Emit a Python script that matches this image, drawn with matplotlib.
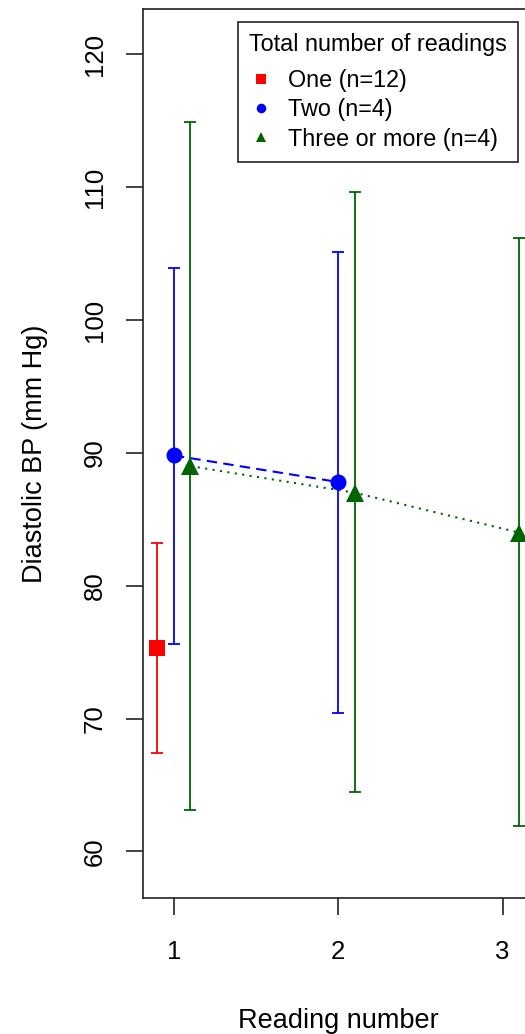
"""Diastolic BP by reading number, grouped by total number of readings."""
import matplotlib
matplotlib.use("Agg")
import matplotlib.pyplot as plt

plt.rcParams["font.family"] = ["Liberation Sans", "DejaVu Sans"]

# data
reading_one = [1]
bp_one = [75.3]
lo_one = [67.4]
hi_one = [83.2]

reading_two = [1, 2]
bp_two = [89.8, 87.8]
lo_two = [75.6, 70.4]
hi_two = [103.9, 105.1]

reading_three = [1, 2, 3]
bp_three = [89.0, 87.0, 84.0]
lo_three = [63.1, 64.5, 61.9]
hi_three = [114.9, 109.6, 106.2]

labels = ["One (n=12)", "Two (n=4)", "Three or more (n=4)"]

groups = [
    # (x, mean, low, high, colour, marker, size, offset, linestyle)
    (reading_one, bp_one, lo_one, hi_one, "#ff0000", "s", 11, -0.1, None),
    (reading_two, bp_two, lo_two, hi_two, "#0000ff", "o", 11.5, 0.0, (0, (5, 3))),
    (reading_three, bp_three, lo_three, hi_three, "#006400", "^", 13, 0.1, (0, (1, 2.6))),
]

W, H = 525, 1034
fig = plt.figure(figsize=(W / 100, H / 100), dpi=100)
left, right, top, bottom = 143, 533.5, 9, 898
ax = fig.add_axes([left / W, 1 - bottom / H, (right - left) / W, (bottom - top) / H])

handles = []
for (xs, m, lo, hi, col, mk, ms, off, ls), lab in zip(groups, labels):
    xx = [x + off for x in xs]
    yerr = [[a - b for a, b in zip(m, lo)], [b - a for a, b in zip(m, hi)]]
    ax.errorbar(xx, m, yerr=yerr, fmt="none", ecolor=col, elinewidth=1.3,
                capsize=4.2, capthick=1.3, zorder=2)
    if ls is not None:
        ax.plot(xx, m, color=col, lw=1.5, linestyle=ls, zorder=3)
    h, = ax.plot(xx, m, linestyle="none", marker=mk, color=col, markersize=ms,
                 markeredgewidth=0, zorder=4, label=lab)
    handles.append(h)

ax.set_xlim(0.812, 3.188)
ax.set_ylim(56.5, 123.4)
ax.set_xticks([1, 2, 3])
ax.set_yticks([60, 70, 80, 90, 100, 110, 120])
ax.tick_params(axis="both", length=12, width=1.2, color="#222222", labelsize=18.5)
ax.tick_params(axis="x", pad=18)
ax.tick_params(axis="y", pad=14)
for t in ax.get_yticklabels():
    t.set_rotation(90)
    t.set_va("center")
for s in ax.spines.values():
    s.set_linewidth(1.2)
    s.set_color("#222222")

ax.set_xlabel("Reading number", fontsize=19.5, labelpad=32)
ax.set_ylabel("Diastolic BP (mm Hg)", fontsize=19.5, labelpad=25)

leg = ax.legend(handles=handles, title="Total number of readings",
                loc="upper left", bbox_to_anchor=(238 / W, 1 - 22 / H),
                bbox_transform=fig.transFigure, borderaxespad=0,
                fontsize=16.8, title_fontsize=16.8, markerscale=0.6,
                handlelength=1.0, handletextpad=0.65, labelspacing=0.275,
                borderpad=0.48, fancybox=False, framealpha=1,
                alignment="left")
leg._legend_box.sep = 9
leg.get_frame().set_edgecolor("#222222")
leg.get_frame().set_linewidth(1.2)

fig.savefig("out.png", dpi=100)
